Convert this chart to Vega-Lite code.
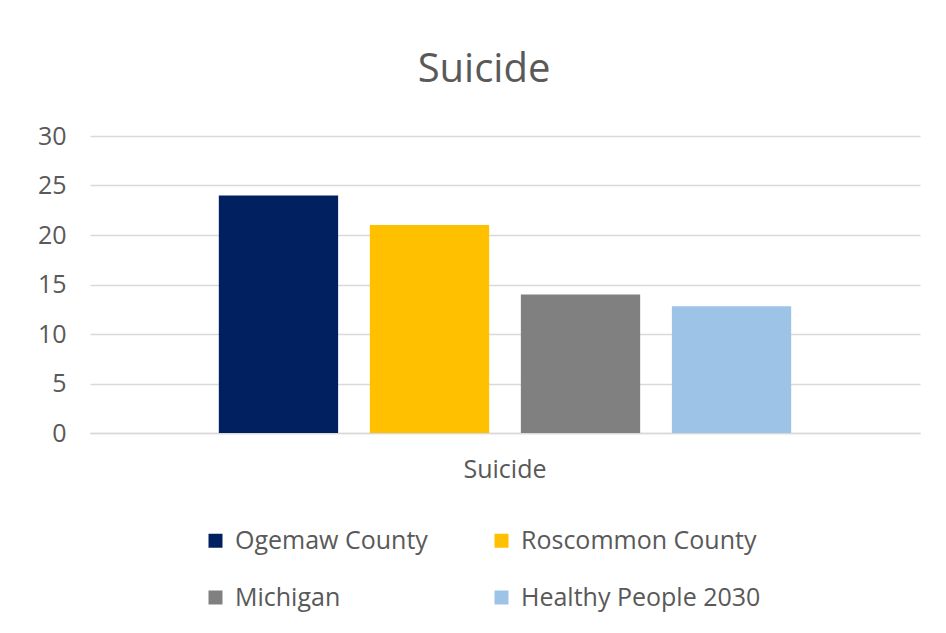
{
  "$schema": "https://vega.github.io/schema/vega-lite/v6.json",
  "width": 830,
  "height": 297,
  "autosize": {"type": "none"},
  "padding": {"left": 90, "top": 136, "right": 26, "bottom": 200},
  "background": "white",
  "config": {
    "font": "Open Sans",
    "view": {"stroke": null}
  },
  "title": {
    "text": "Suicide",
    "fontSize": 40,
    "font": "Open Sans",
    "fontWeight": "normal",
    "color": "#595959",
    "offset": 34,
    "dx": -21
  },
  "data": {
    "values": [
      {"category": "Suicide", "series": "Ogemaw County", "value": 24},
      {"category": "Suicide", "series": "Roscommon County", "value": 21},
      {"category": "Suicide", "series": "Michigan", "value": 14},
      {"category": "Suicide", "series": "Healthy People 2030", "value": 12.8}
    ]
  },
  "mark": {"type": "bar"},
  "encoding": {
    "x": {
      "field": "category",
      "type": "nominal",
      "scale": {"paddingOuter": 0.187, "paddingInner": 0},
      "axis": {
        "title": null,
        "labelAngle": 0,
        "labelFontSize": 25,
        "labelColor": "#595959",
        "labelPadding": 24,
        "ticks": false,
        "tickSize": 0,
        "domainColor": "#d9d9d9",
        "domainWidth": 1.5
      }
    },
    "xOffset": {
      "field": "series",
      "type": "nominal",
      "sort": ["Ogemaw County", "Roscommon County", "Michigan", "Healthy People 2030"],
      "scale": {"paddingInner": 0.21, "paddingOuter": 0.105}
    },
    "y": {
      "field": "value",
      "type": "quantitative",
      "scale": {"domain": [0, 30], "nice": false},
      "axis": {
        "title": null,
        "values": [0, 5, 10, 15, 20, 25, 30],
        "labelFontSize": 25,
        "labelColor": "#595959",
        "labelPadding": 24,
        "ticks": false,
        "tickSize": 0,
        "domain": false,
        "gridColor": "#d9d9d9",
        "gridWidth": 1.5
      }
    },
    "color": {
      "field": "series",
      "type": "nominal",
      "sort": ["Ogemaw County", "Roscommon County", "Michigan", "Healthy People 2030"],
      "scale": {
        "domain": ["Ogemaw County", "Roscommon County", "Michigan", "Healthy People 2030"],
        "range": ["#002060", "#FFC000", "#808080", "#9DC3E6"]
      },
      "legend": {
        "title": null,
        "orient": "none",
        "direction": "horizontal",
        "legendX": 113,
        "legendY": 392,
        "columns": 2,
        "columnPadding": 61,
        "rowPadding": 31,
        "symbolType": "square",
        "symbolSize": 196,
        "symbolStrokeWidth": 0,
        "labelFontSize": 25,
        "labelColor": "#595959",
        "labelOffset": 7,
        "labelLimit": 400
      }
    }
  }
}
